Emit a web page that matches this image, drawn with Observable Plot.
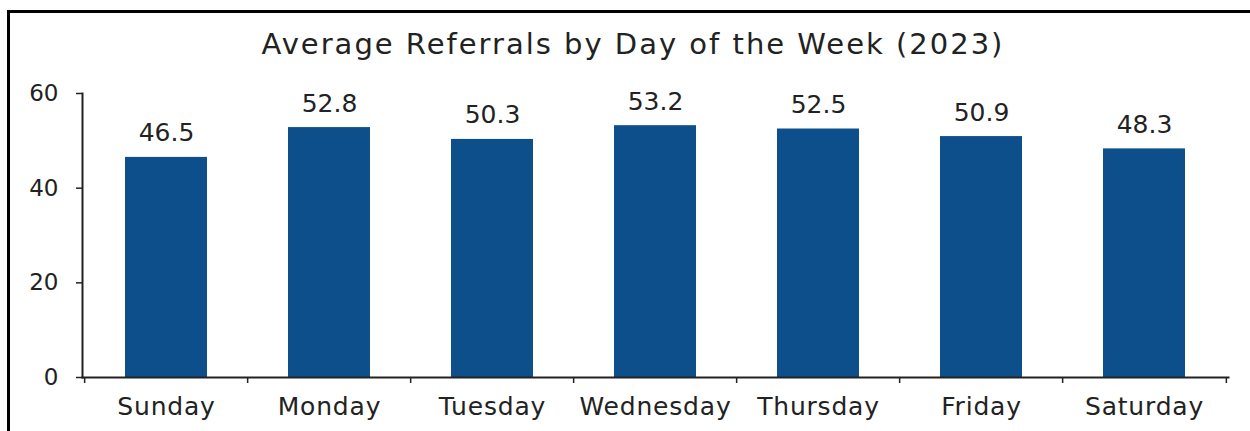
<!DOCTYPE html>
<html>
<head>
<meta charset="utf-8">
<script src="https://cdn.jsdelivr.net/npm/d3@7"></script>
<script src="https://cdn.jsdelivr.net/npm/@observablehq/plot@0.6"></script>
<style>
  body { margin: 0; background: #fff; }
  #wrap { position: relative; width: 1250px; height: 431px; overflow: hidden; background: #fff; }
  #frame { position: absolute; left: 7px; top: 10px; width: 1300px; height: 500px;
           border-top: 3px solid #000; border-left: 3px solid #000; }
  #title { position: absolute; left: 8px; top: 30px; width: 1250px; text-align: center;
           font-family: "DejaVu Sans"; font-size: 29px; line-height: 29px; letter-spacing: 2px; color: #222; }
  #chart { position: absolute; left: 0; top: 0; }
  #chart g[aria-label="x-axis tick label"] text { letter-spacing: 0.8px; }
</style>
</head>
<body>
<div id="wrap">
  <div id="frame"></div>
  <div id="chart"></div>
  <div id="title">Average Referrals by Day of the Week (2023)</div>
</div>
<script>
const days = ["Sunday", "Monday", "Tuesday", "Wednesday", "Thursday", "Friday", "Saturday"];
const referrals = [46.5, 52.8, 50.3, 53.2, 52.5, 50.9, 48.3];
const yTicks = [0, 20, 40, 60];

const data = days.map((day, i) => ({day, value: referrals[i]}));

const W = 1250, H = 431;
const mL = 82, mR = 22, mT = 93, mB = 54;
const step = (W - mL - mR) / days.length;

const chart = Plot.plot({
  width: W,
  height: H,
  marginLeft: mL,
  marginRight: mR,
  marginTop: mT,
  marginBottom: mB,
  style: {fontFamily: "DejaVu Sans", color: "#222", background: "transparent", overflow: "visible"},
  x: {domain: days, paddingInner: 0.5, paddingOuter: 0.25, label: null},
  y: {domain: [0, 60], label: null},
  marks: [
    Plot.barY(data, {x: "day", y: "value", fill: "#0c4f8b"}),
    Plot.text(data, {x: "day", y: "value", text: d => d.value.toFixed(1), lineAnchor: "bottom", dy: -16, fontSize: 25, fill: "#222"}),
    Plot.axisY({ticks: yTicks, tickSize: 6, tickPadding: 18, fontSize: 23, label: null, strokeWidth: 1.5}),
    Plot.axisX({tickSize: 0, tickPadding: 20, fontSize: 25, label: null}),
    Plot.axisX({tickSize: 6, tickFormat: () => "", dx: -step / 2, label: null, strokeWidth: 1.5}),
    Plot.axisX({ticks: [days[days.length - 1]], tickSize: 6, tickFormat: () => "", dx: step / 2, label: null, strokeWidth: 1.5}),
    Plot.frame({anchor: "left", stroke: "#222", strokeWidth: 2}),
    Plot.frame({anchor: "bottom", stroke: "#222", strokeWidth: 2})
  ]
});
document.getElementById("chart").appendChild(chart);
</script>
</body>
</html>
